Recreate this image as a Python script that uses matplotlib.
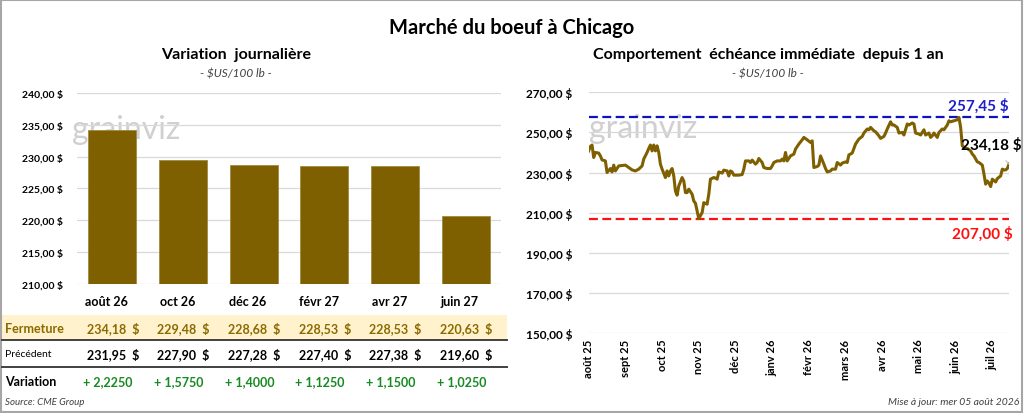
import matplotlib
matplotlib.use('Agg')
import matplotlib.pyplot as plt
import matplotlib.transforms as mtransforms
from matplotlib.patches import Rectangle
from matplotlib.lines import Line2D

plt.rcParams['font.family'] = ['Lato', 'DejaVu Sans']

# --- donnees : variation journaliere ---
contracts = ['août 26', 'oct 26', 'déc 26', 'févr 27', 'avr 27', 'juin 27']
closes = [234.18, 229.48, 228.68, 228.53, 228.53, 220.63]
previous = [231.95, 227.90, 227.28, 227.40, 227.38, 219.60]
changes = [2.2250, 1.5750, 1.4000, 1.1250, 1.1500, 1.0250]

# --- donnees : echeance immediate sur 1 an (jour de bourse, prix) ---
month_labels = ['août 25', 'sept 25', 'oct 25', 'nov 25', 'déc 25', 'janv 26',
                'févr 26', 'mars 26', 'avr 26', 'mai 26', 'juin 26', 'juil 26']
month_step = 22
day_idx = [0, 1, 2, 3, 4, 6, 7, 8, 10, 11, 13, 14, 15, 16, 18, 22, 24, 26, 28, 30,
           32, 33, 35, 36, 37, 38, 39, 40, 41, 42, 43, 44, 46, 47, 48, 49, 50, 51, 52, 53,
           54, 56, 57, 58, 59, 60, 62, 63, 64, 66, 68, 69, 71, 72, 73, 75, 76, 77, 78, 80,
           81, 83, 84, 85, 86, 87, 90, 92, 93, 94, 96, 97, 98, 100, 101, 102, 104, 105, 107, 109,
           110, 111, 113, 115, 116, 117, 118, 119, 121, 123, 124, 126, 128, 129, 131, 133, 134, 135, 137, 138,
           139, 141, 142, 143, 145, 146, 148, 149, 151, 152, 154, 155, 156, 158, 160, 162, 164, 165, 167, 168,
           169, 171, 172, 174, 175, 177, 178, 179, 181, 182, 183, 185, 186, 188, 189, 191, 192, 194, 195, 196,
           198, 199, 201, 202, 204, 205, 206, 207, 209, 210, 212, 213, 215, 216, 217, 219, 221, 222, 223, 224,
           226, 227, 229, 230, 231, 233, 234, 236, 237, 238, 239, 240, 241, 242, 244, 245, 247, 248, 249, 250,
           251, 252]
price = [240.8, 243.0, 243.7, 237.5, 240.0, 239.7, 238.3, 236.3, 235.8, 230.0, 232.0, 230.3, 233.7, 230.8, 233.3, 233.7, 232.5, 231.3, 230.8, 231.7,
         233.3, 236.7, 240.0, 242.0, 243.7, 240.8, 243.7, 240.8, 243.3, 240.0, 234.2, 231.7, 227.5, 230.8, 228.3, 230.8, 232.0, 228.3, 220.8, 218.7,
         223.3, 227.5, 225.8, 220.0, 220.0, 221.7, 219.2, 215.8, 214.7, 207.0, 210.0, 215.0, 214.2, 219.2, 226.7, 227.5, 227.2, 226.7, 230.3, 229.7,
         231.2, 230.8, 228.3, 230.8, 230.3, 228.7, 228.7, 229.0, 231.7, 235.8, 235.8, 235.0, 236.2, 234.2, 235.0, 237.0, 235.0, 232.5, 232.0, 232.0,
         233.3, 235.0, 235.8, 235.8, 236.7, 235.8, 240.0, 235.8, 238.3, 239.2, 241.7, 244.2, 246.3, 247.5, 246.3, 245.0, 245.8, 232.5, 233.0, 233.7,
         238.3, 234.2, 232.0, 230.3, 230.8, 231.7, 231.7, 235.0, 233.7, 234.7, 235.3, 235.0, 238.8, 239.7, 244.2, 246.7, 248.0, 249.7, 251.7, 251.3,
         252.5, 250.8, 250.3, 248.3, 247.0, 248.0, 249.7, 251.7, 255.3, 253.7, 253.7, 252.5, 249.7, 250.0, 248.7, 254.2, 253.7, 254.7, 254.2, 249.7,
         249.2, 248.7, 251.3, 248.7, 249.7, 247.5, 248.3, 249.7, 247.5, 250.0, 251.7, 251.3, 253.7, 255.8, 255.3, 255.8, 256.3, 257.45, 252.5, 243.3,
         242.0, 242.0, 240.8, 239.2, 238.3, 235.3, 235.0, 233.7, 229.2, 224.2, 225.8, 224.7, 223.0, 226.7, 225.3, 227.0, 228.3, 231.7, 231.3, 231.3,
         232.0, 234.18]
high_1y = 257.45
low_1y = 207.00

BROWN = '#7F6000'
GRID = '#d9d9d9'


def fr(v, dec=2):
    return f'{v:.{dec}f}'.replace('.', ',')


def dollars(v, pos=None):
    return fr(v) + ' $'


W, H = 1024, 414
fig = plt.figure(figsize=(W / 100, H / 100), dpi=100)


def fx(px):
    return px / W


def fy(py):
    return 1 - py / H


# cadre
fig.patches.append(Rectangle((0.001, 0.002), 0.997, 0.995, transform=fig.transFigure,
                             fill=False, edgecolor='#a6a6a6', linewidth=1.5))

fig.text(0.5, fy(28), 'Marché du boeuf à Chicago', ha='center', va='center',
         fontsize=14.5, fontweight='bold')

# ================= graphique de gauche =================
ax1 = fig.add_axes([fx(77), fy(284.7), fx(501 - 77), fy(94) - fy(284.7)])
x = range(len(contracts))
ax1.bar(x, closes, width=0.68, color=BROWN, edgecolor='#a08a40', linewidth=0.6, zorder=3)
ax1.set_ylim(210, 240)
ax1.set_xlim(-0.5, len(contracts) - 0.5)
ax1.set_yticks(range(210, 241, 5))
ax1.yaxis.set_major_formatter(dollars)
ax1.grid(axis='y', color=GRID, linewidth=0.9, zorder=0)
ax1.set_xticks([])
for s in ax1.spines.values():
    s.set_visible(False)
ax1.tick_params(axis='y', length=0, pad=10, labelsize=7.5)
for t in ax1.get_yticklabels():
    t.set_fontweight('bold')
ax1.text(-0.012, 0.81, 'grainviz', transform=ax1.transAxes, fontsize=23,
         color='#c8c8c8', alpha=0.85, va='center', zorder=1, clip_on=False)

fig.text(fx(236), fy(55), 'Variation  journalière', ha='center', va='center',
         fontsize=11.5, fontweight='bold')
fig.text(fx(236), fy(74), '- $US/100 lb -', ha='center', va='center',
         fontsize=8.5, style='italic', color='#404040')

# tableau sous les barres
tr = mtransforms.blended_transform_factory(ax1.transData, fig.transFigure)
fig.patches.append(Rectangle((fx(2), fy(340)), fx(505), fy(316) - fy(340),
                             transform=fig.transFigure, facecolor='#FFF2CC',
                             edgecolor='none', zorder=0))
for py in (341, 368):
    fig.lines.append(Line2D([fx(2), fx(507)], [fy(py), fy(py)], transform=fig.transFigure,
                            color='#404040', linewidth=1.4))

fig.text(fx(5), fy(329), 'Fermeture', ha='left', va='center', fontsize=9,
         fontweight='bold', color='#8A6A00')
fig.text(fx(5), fy(355), 'Précédent', ha='left', va='center', fontsize=7.5)
fig.text(fx(5), fy(382), 'Variation', ha='left', va='center', fontsize=9, fontweight='bold')
fig.text(fx(5), fy(403), 'Source: CME Group', ha='left', va='center', fontsize=7,
         style='italic', color='#404040')

for i in x:
    fig.text(i - 0.08, fy(302), contracts[i], transform=tr, ha='center', va='center',
             fontsize=9, fontweight='bold')
    fig.text(i + 0.38, fy(329), fr(closes[i]) + '  $', transform=tr, ha='right',
             va='center', fontsize=9, fontweight='bold', color='#8A6A00')
    fig.text(i + 0.38, fy(355), fr(previous[i]) + '  $', transform=tr, ha='right',
             va='center', fontsize=9, fontweight='bold')
    fig.text(i - 0.06, fy(382), '+ ' + fr(changes[i], 4), transform=tr, ha='center',
             va='center', fontsize=9, fontweight='bold', color='#178A22')

# ================= graphique de droite =================
ax2 = fig.add_axes([fx(588.7), fy(334), fx(1009 - 588.7), fy(93.3) - fy(334)])
ax2.plot(day_idx, price, color=BROWN, linewidth=2.2, zorder=3)
ax2.axhline(high_1y, color='#1010C0', linestyle=(0, (4, 2)), linewidth=1.6, zorder=2)
ax2.axhline(low_1y, color='#FF1010', linestyle=(0, (4, 2)), linewidth=1.6, zorder=2)
ax2.set_ylim(150, 270)
ax2.set_xlim(0, day_idx[-1])
ax2.set_yticks(range(150, 271, 20))
ax2.yaxis.set_major_formatter(dollars)
ax2.set_xticks([k * month_step for k in range(len(month_labels))])
ax2.set_xticklabels(month_labels, rotation=90, fontsize=8, fontweight='bold')
ax2.grid(axis='y', color=GRID, linewidth=0.9, zorder=0)
for s in ax2.spines.values():
    s.set_visible(False)
ax2.tick_params(axis='y', length=0, pad=12, labelsize=8.5)
ax2.tick_params(axis='x', length=0, pad=4)
for t in ax2.get_yticklabels():
    t.set_fontweight('bold')
ax2.text(0.0, 0.85, 'grainviz', transform=ax2.transAxes, fontsize=23,
         color='#c8c8c8', alpha=0.85, va='center', zorder=1)

ax2.annotate(dollars(high_1y), (day_idx[-1], high_1y), xytext=(0, 12),
             textcoords='offset pixels', ha='right', va='center', fontsize=11,
             fontweight='bold', color='#1F1FC8', annotation_clip=False)
ax2.annotate(dollars(low_1y), (day_idx[-1], low_1y), xytext=(4, -15),
             textcoords='offset pixels', ha='right', va='center', fontsize=11,
             fontweight='bold', color='#FF1010', annotation_clip=False)
ax2.annotate(dollars(price[-1]), (day_idx[-1], price[-1]), xytext=(-18, 20),
             textcoords='offset pixels', ha='center', va='center', fontsize=11,
             fontweight='bold', color='black', annotation_clip=False,
             arrowprops=dict(arrowstyle='-', color='#bfbfbf', linewidth=0.8,
                             shrinkA=6, shrinkB=0))

fig.text(fx(768), fy(55), 'Comportement  échéance immédiate  depuis 1 an', ha='center',
         va='center', fontsize=11.5, fontweight='bold')
fig.text(fx(768), fy(74), '- $US/100 lb -', ha='center', va='center',
         fontsize=8.5, style='italic', color='#404040')
fig.text(fx(1019), fy(403), 'Mise à jour: mer 05 août 2026', ha='right', va='center',
         fontsize=7.5, style='italic', color='#404040')

fig.savefig('out.png', dpi=100)
